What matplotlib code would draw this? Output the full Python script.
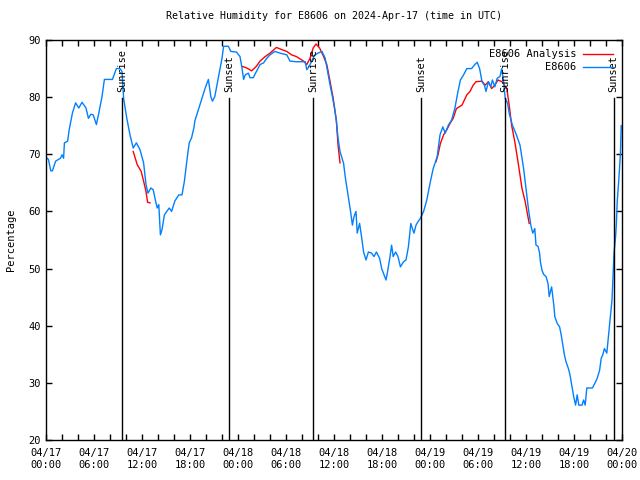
import datetime as dt
import numpy as np
import matplotlib
matplotlib.use("Agg")
import matplotlib.pyplot as plt
import matplotlib.dates as mdates

start = dt.datetime(2024, 4, 17, 0, 0)

# observed relative humidity (hours since 04/17 00:00 UTC, percent)
obs_hours = [0.0, 0.3, 0.6, 0.8, 1.2, 1.8, 2.0, 2.2, 2.3, 2.7, 2.9, 3.3, 3.7, 4.1, 4.5, 5.0, 5.3,
             5.6, 5.9, 6.3, 6.6, 7.0, 7.3, 8.3, 8.8, 9.25, 9.5, 9.7, 10.1, 10.5, 10.9, 11.3, 11.75,
             12.2, 12.5, 12.75, 13.1, 13.4, 13.7, 13.9, 14.1, 14.3, 14.5, 14.8, 15.4, 15.7, 16.1,
             16.6, 17.0, 17.3, 17.7, 17.9, 18.2, 18.5, 18.6, 19.25, 19.9, 20.3, 20.6, 20.8, 21.1,
             21.5, 22.0, 22.2, 22.8, 23.1, 23.8, 24.25, 24.5, 24.7, 24.9, 25.3, 25.5, 25.9, 26.3,
             26.75, 27.2, 27.6, 28.0, 28.6, 29.25, 30.1, 30.5, 31.3, 32.4, 32.6, 32.9, 33.2, 33.6,
             34.0, 34.5, 34.9, 35.2, 35.5, 35.8, 36.1, 36.3, 36.5, 36.75, 37.2, 37.4, 37.6, 37.8,
             38.1, 38.3, 38.5, 38.75, 38.9, 39.2, 39.5, 39.7, 40.0, 40.3, 40.7, 41.0, 41.3, 41.7,
             41.96, 42.25, 42.5, 42.7, 43.0, 43.2, 43.4, 43.7, 44.0, 44.3, 44.7, 45.0, 45.3, 45.6,
             45.8, 46.0, 46.25, 46.5, 46.8, 47.2, 47.6, 48.0, 48.4, 48.9, 49.25, 49.6, 49.9, 50.3,
             50.7, 51.1, 51.5, 51.8, 52.2, 52.6, 53.2, 53.6, 53.9, 54.2, 54.5, 54.8, 55.0, 55.3,
             55.6, 55.8, 56.1, 56.4, 56.75, 56.96, 57.2, 57.4, 57.7, 57.9, 58.3, 58.8, 59.25, 59.7,
             60.0, 60.3, 60.6, 60.85, 61.1, 61.25, 61.5, 61.7, 61.8, 62.0, 62.2, 62.5, 62.75, 62.9,
             63.2, 63.3, 63.5, 63.6, 63.9, 64.2, 64.4, 64.6, 64.8, 65.0, 65.3, 65.5, 65.75, 65.96,
             66.2, 66.4, 66.6, 67.0, 67.2, 67.4, 67.6, 68.0, 68.3, 68.6, 68.9, 69.2, 69.4, 69.6,
             69.8, 70.1, 70.3, 70.5, 70.75, 70.9, 71.0, 71.2, 71.3, 71.4, 71.6, 71.8, 71.9]
obs_rh = [69.5, 69.1, 67.1, 67.1, 68.8, 69.3, 69.9, 69.3, 72.0, 72.3, 74.3, 77.2, 79.0, 78.1, 79.1,
          78.1, 76.3, 77.0, 76.9, 75.2, 77.2, 80.1, 83.1, 83.1, 85.0, 85.0, 84.5, 79.8, 76.3, 73.4,
          71.1, 72.0, 70.8, 68.5, 64.7, 63.2, 64.1, 63.8, 61.8, 60.6, 61.2, 55.9, 56.8, 59.4, 60.6,
          60.0, 61.8, 62.9, 62.9, 65.3, 69.9, 72.0, 72.9, 74.7, 75.8, 78.7, 81.6, 83.1, 80.1, 79.3,
          80.1, 83.1, 86.8, 88.9, 88.9, 88.0, 87.9, 87.1, 85.1, 83.1, 83.9, 84.2, 83.4, 83.4, 84.5,
          85.7, 86.0, 86.8, 87.4, 88.0, 87.7, 87.4, 86.3, 86.2, 86.2, 84.8, 85.4, 86.3, 87.4, 87.7,
          88.0, 86.8, 84.5, 82.2, 80.1, 77.8, 75.8, 72.9, 70.5, 68.4, 66.1, 64.3, 62.6, 59.7, 57.6,
          59.1, 60.0, 56.2, 57.9, 55.0, 52.9, 51.5, 52.9, 52.7, 52.1, 52.9, 51.8, 50.0, 48.9, 48.0,
          49.5, 52.1, 54.1, 52.1, 52.9, 52.1, 50.3, 51.2, 51.5, 53.8, 57.9, 57.0, 56.2, 57.6, 58.2,
          58.8, 60.0, 62.0, 64.9, 67.5, 69.6, 73.4, 74.8, 73.7, 75.1, 76.0, 78.0, 81.0, 83.0, 83.9,
          85.0, 85.0, 85.7, 86.1, 85.0, 82.7, 82.1, 81.0, 82.7, 81.8, 83.0, 81.8, 83.3, 83.6, 85.0,
          82.7, 79.8, 78.9, 77.2, 75.1, 73.4, 71.6, 67.5, 64.0, 60.5, 57.6, 56.2, 57.0, 54.1, 53.9,
          52.7, 51.2, 49.7, 49.0, 48.6, 47.4, 45.1, 46.8, 45.7, 43.3, 41.6, 40.4, 39.8, 38.4, 36.6,
          34.9, 33.7, 32.5, 31.4, 29.3, 27.6, 26.1, 27.9, 26.1, 26.1, 27.0, 26.1, 29.1, 29.1, 29.1,
          29.9, 30.8, 32.2, 34.3, 34.9, 36.0, 35.2, 38.1, 41.0, 44.5, 49.7, 52.7, 55.6, 57.9, 61.7,
          65.5, 70.0, 75.0]

# analysis, three separate runs
ana1_hours = [10.9, 11.4, 11.9, 12.2, 12.5, 12.7, 13.0]
ana1_rh = [70.5, 68.2, 67.0, 65.3, 63.5, 61.6, 61.5]
ana2_hours = [24.5, 25.1, 25.7, 26.3, 26.75, 27.4, 28.0, 28.8, 29.5, 30.1, 30.7, 31.3, 32.2, 32.6,
              33.0, 33.4, 33.75, 34.2, 34.7, 35.1, 35.5, 35.9, 36.3, 36.5, 36.75]
ana2_rh = [85.4, 85.1, 84.6, 85.4, 86.3, 87.1, 87.7, 88.7, 88.3, 88.0, 87.4, 87.1, 86.3, 85.7,
           86.8, 88.6, 89.3, 88.6, 87.1, 85.7, 82.8, 79.8, 75.8, 71.7, 68.5]
ana3_hours = [48.75, 49.0, 49.3, 49.7, 50.1, 50.5, 50.9, 51.3, 52.0, 52.6, 53.0, 53.4, 53.75, 54.5,
              54.9, 55.3, 55.7, 56.1, 56.5, 57.0, 57.6, 57.9, 58.2, 58.6, 59.0, 59.5, 59.9, 60.2, 60.4]
ana3_rh = [68.7, 69.9, 71.9, 73.4, 74.3, 75.4, 76.3, 78.0, 78.6, 80.4, 81.0, 82.1, 82.7, 82.8,
           82.1, 82.7, 81.5, 82.1, 83.0, 82.7, 81.5, 78.6, 75.1, 72.2, 68.7, 64.0, 61.7, 59.4, 57.9]

# sun events (hours since start)
event_hours = [9.55, 22.9, 33.42, 46.88, 57.4, 70.96]
event_names = ["Sunrise", "Sunset", "Sunrise", "Sunset", "Sunrise", "Sunset"]


def to_time(hours):
    return [start + dt.timedelta(hours=h) for h in hours]


plt.rcParams['font.family'] = ['DejaVu Sans Mono']
plt.rcParams['font.size'] = 7.5

fig = plt.figure(figsize=(6.4, 4.8), dpi=100)
ax = fig.add_axes([46 / 640, 40 / 480, 576 / 640, 400 / 480])

first = True
for hrs, vals in [(ana1_hours, ana1_rh), (ana2_hours, ana2_rh), (ana3_hours, ana3_rh)]:
    ax.plot(to_time(hrs), vals, color='#ff0000', lw=1, label='E8606 Analysis' if first else None)
    first = False
ax.plot(to_time(obs_hours), obs_rh, color='#0080ff', lw=1, label='E8606')

for h, name in zip(event_hours, event_names):
    t = start + dt.timedelta(hours=h)
    ax.axvline(t, ymin=0, ymax=(79.8 - 20) / 70, color='black', lw=1)
    ax.text(t, 80.9, name, rotation=90, ha='center', va='bottom', fontsize=7.4)

ax.set_xlim(start, start + dt.timedelta(hours=72))
ax.set_ylim(20, 90)
ax.xaxis.set_major_locator(mdates.HourLocator(byhour=range(0, 24, 6)))
ax.xaxis.set_minor_locator(mdates.HourLocator(byhour=range(0, 24, 2)))
ax.xaxis.set_major_formatter(mdates.DateFormatter('%m/%d\n%H:%M'))
ax.set_yticks(np.arange(20, 91, 10))
ax.tick_params(which='both', direction='in', top=True, right=True, length=4, width=1)
ax.tick_params(axis='x', pad=6)
for s in ax.spines.values():
    s.set_linewidth(1)

ax.set_title('Relative Humidity for E8606 on 2024-Apr-17 (time in UTC)', fontsize=7.2, pad=15)
ax.set_ylabel('Percentage', fontsize=7.5, labelpad=9)

ax.legend(loc='upper right', frameon=False, markerfirst=False, fontsize=7.5,
          handlelength=2.8, borderaxespad=0.6, labelspacing=0.3, handletextpad=0.7,
          borderpad=0.3)

fig.savefig('out.png', dpi=100)
